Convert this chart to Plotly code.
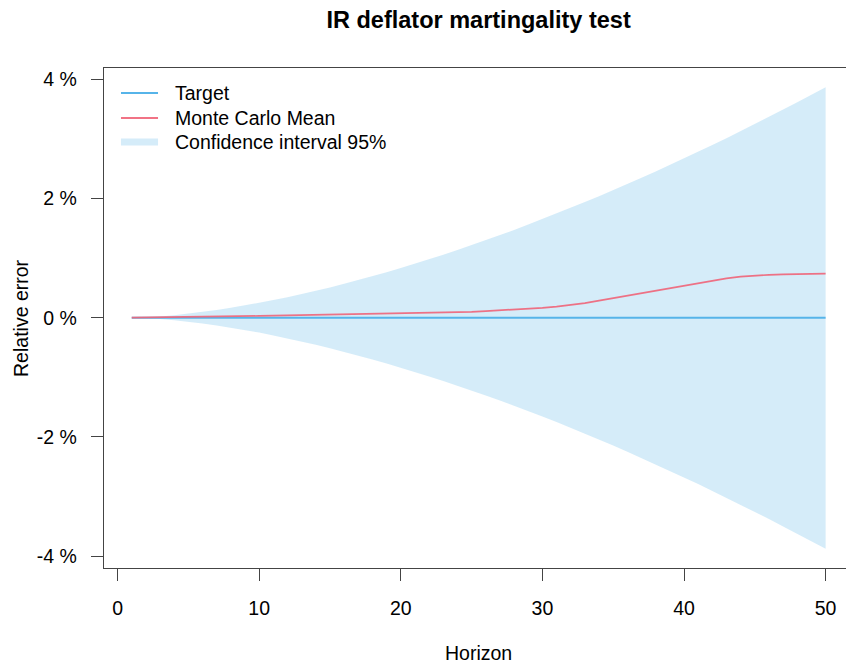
import plotly.graph_objects as go

# Projection horizon (years)
horizon = list(range(1, 51))

# Target relative error (martingale condition => zero)
target = [0.0] * 50

# Monte Carlo mean of the relative error, in %
mc_mean = [
    0.000, 0.002, 0.005, 0.008, 0.012, 0.016, 0.019, 0.022, 0.026, 0.030,
    0.034, 0.038, 0.043, 0.048, 0.053, 0.057, 0.060, 0.063, 0.066, 0.069,
    0.073, 0.078, 0.084, 0.091, 0.099, 0.110, 0.122, 0.135, 0.150, 0.166,
    0.186, 0.212, 0.245, 0.288, 0.330, 0.372, 0.414, 0.456, 0.498, 0.540,
    0.582, 0.622, 0.660, 0.690, 0.710, 0.720, 0.727, 0.732, 0.735, 0.738,
]

# 95% confidence interval bounds, in %
ci_upper = [
    0.000, 0.007, 0.022, 0.042, 0.067, 0.096, 0.129, 0.165, 0.205, 0.248,
    0.295, 0.343, 0.396, 0.451, 0.508, 0.568, 0.631, 0.696, 0.763, 0.833,
    0.905, 0.980, 1.057, 1.135, 1.216, 1.299, 1.385, 1.472, 1.562, 1.654,
    1.747, 1.842, 1.940, 2.039, 2.138, 2.243, 2.349, 2.454, 2.562, 2.672,
    2.784, 2.898, 3.013, 3.130, 3.248, 3.370, 3.494, 3.615, 3.740, 3.866,
]
ci_lower = [
    0.000, -0.007, -0.022, -0.042, -0.067, -0.096, -0.130, -0.166, -0.206, -0.250,
    -0.297, -0.346, -0.399, -0.454, -0.512, -0.572, -0.635, -0.700, -0.768, -0.838,
    -0.910, -0.985, -1.062, -1.140, -1.221, -1.304, -1.390, -1.477, -1.567, -1.659,
    -1.752, -1.847, -1.945, -2.044, -2.144, -2.249, -2.355, -2.461, -2.569, -2.680,
    -2.792, -2.906, -3.021, -3.139, -3.257, -3.379, -3.503, -3.625, -3.751, -3.878,
]

y_ticks = [-4, -2, 0, 2, 4]
y_tick_text = ["-4 %", "-2 %", "0 %", "2 %", "4 %"]
x_ticks = [0, 10, 20, 30, 40, 50]

FONT = "Liberation Sans, Arial, sans-serif"
FS = 19.5
BLUE = "#56B4E9"
RED = "rgba(240,100,120,0.9)"
BAND = "rgba(86,180,233,0.25)"
AXIS = "#444444"

fig = go.Figure()

fig.add_trace(go.Scatter(x=horizon, y=ci_upper, mode="lines",
                         line=dict(width=0), hoverinfo="skip", showlegend=False))
fig.add_trace(go.Scatter(x=horizon, y=ci_lower, mode="lines", fill="tonexty",
                         fillcolor=BAND, line=dict(width=0),
                         name="Confidence interval 95%", showlegend=False))
fig.add_trace(go.Scatter(x=horizon, y=target, mode="lines",
                         line=dict(color=BLUE, width=2), name="Target",
                         showlegend=False))
fig.add_trace(go.Scatter(x=horizon, y=mc_mean, mode="lines",
                         line=dict(color=RED, width=1.7), name="Monte Carlo Mean",
                         showlegend=False))

# Legend drawn as keys + labels in the upper-left corner
legend_items = [
    ("Target", BLUE, 2, 0.950),
    ("Monte Carlo Mean", RED, 2, 0.900),
    ("Confidence interval 95%", "rgba(86,180,233,0.25)", 7, 0.852),
]
shapes = []
annotations = []
for label, color, width, yy in legend_items:
    shapes.append(dict(type="line", xref="paper", yref="paper",
                       x0=0.0229, x1=0.0728, y0=yy, y1=yy,
                       line=dict(color=color, width=width)))
    annotations.append(dict(text=label, xref="paper", yref="paper",
                            x=0.093, y=yy, xanchor="left", yanchor="middle",
                            showarrow=False, font=dict(size=FS, color="black")))

annotations.append(dict(text="Horizon", xref="paper", yref="paper",
                        x=0.5047, y=-0.17, xanchor="center", yanchor="middle",
                        showarrow=False, font=dict(size=FS, color="black")))
annotations.append(dict(text="Relative error", xref="paper", yref="paper",
                        x=-0.1119, y=0.5, xanchor="center", yanchor="middle",
                        textangle=-90, showarrow=False,
                        font=dict(size=FS, color="black")))

fig.update_layout(
    width=846, height=667,
    margin=dict(l=104, r=0, t=68, b=99),
    paper_bgcolor="white", plot_bgcolor="white",
    font=dict(family=FONT, size=FS, color="black"),
    title=dict(text="<b>IR deflator martingality test</b>", x=0.5657, xanchor="center",
               y=1 - 20 / 667, yanchor="middle", font=dict(size=23.5, color="black")),
    shapes=shapes,
    annotations=annotations,
    showlegend=False,
)
fig.update_xaxes(range=[-0.96, 51.44], tickvals=x_ticks, ticks="outside", ticklen=12,
                 tickcolor=AXIS, tickwidth=1.2, showline=True, linecolor=AXIS,
                 linewidth=1.3, mirror=True, showgrid=False, zeroline=False,
                 ticklabelstandoff=10, tickfont=dict(size=FS))
fig.update_yaxes(range=[-4.2, 4.19], tickvals=y_ticks, ticktext=y_tick_text,
                 ticks="outside", ticklen=12, tickcolor=AXIS, tickwidth=1.2,
                 showline=True, linecolor=AXIS, linewidth=1.3, mirror=False,
                 showgrid=False, zeroline=False, ticklabelstandoff=10,
                 tickfont=dict(size=FS))

fig.write_html("out.html")
